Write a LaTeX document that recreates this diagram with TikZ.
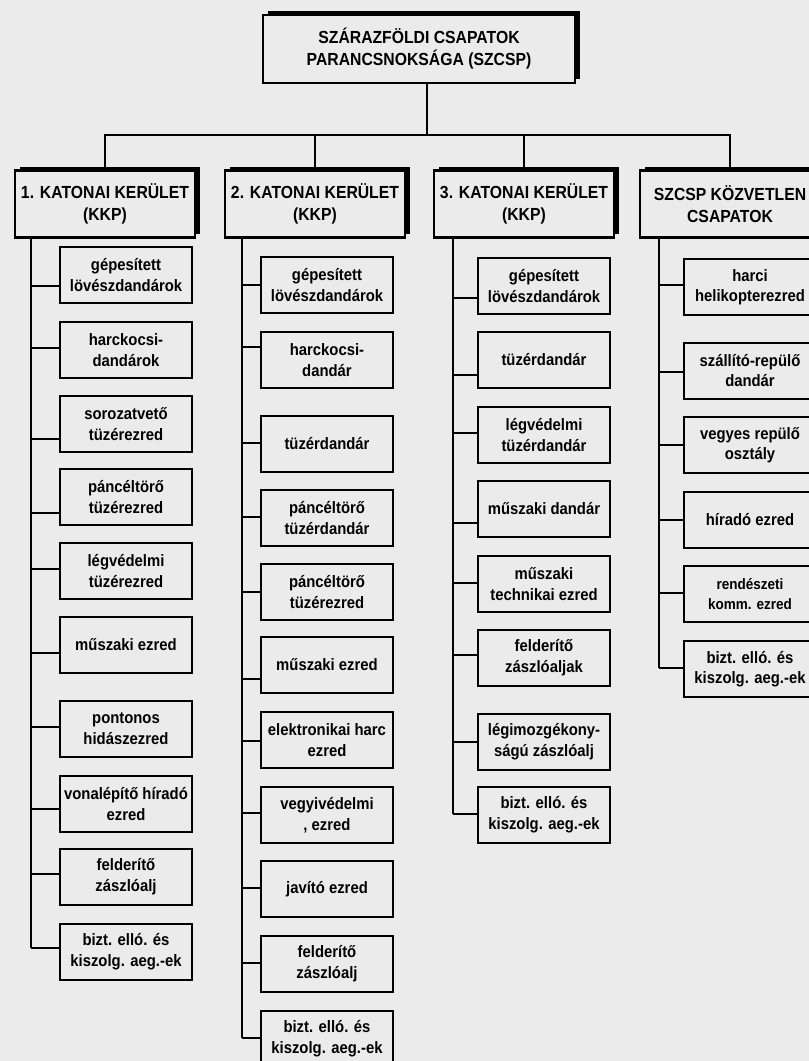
\documentclass[tikz,border=0pt]{standalone}
\usepackage{fontspec}
\setmainfont{Liberation Sans}[FakeStretch=0.9]
\usetikzlibrary{shadows}

\definecolor{paper}{gray}{0.92}

\tikzset{
    box/.style={draw, line width=2.4pt, fill=paper, align=center, inner sep=2pt,
        font=\bfseries\fontsize{16.5}{21}\selectfont},
    headbox/.style={box, general shadow={fill=black, shadow xshift=5pt, shadow yshift=4pt},
        font=\bfseries\fontsize{17.5}{22}\selectfont},
    unitbox/.style={box, minimum width=132pt, minimum height=56pt},
    link/.style={line width=2.2pt}
}

\begin{document}
\begin{tikzpicture}[x=1pt, y=-1pt]
    % the scanned page
    \fill[paper] (0,0) rectangle (809,1061);
    \useasboundingbox (0,0) rectangle (809,1061);
    \clip (0,0) rectangle (809,1061);

    % command on top
    \node[headbox, minimum width=312pt, minimum height=68pt] (szcsp) at (419,49)
        {SZÁRAZFÖLDI CSAPATOK\\PARANCSNOKSÁGA (SZCSP)};

    % the four districts under it
    \foreach \x/\name/\txt in {105/kk1/{1. KATONAI KERÜLET\\(KKP)},
                              315/kk2/{2. KATONAI KERÜLET\\(KKP)},
                              524/kk3/{3. KATONAI KERÜLET\\(KKP)},
                              730/kozv/{SZCSP KÖZVETLEN\\CSAPATOK}}
        \node[headbox, minimum width=180pt, minimum height=67pt] (\name) at (\x,204) {\txt};

    % bus between command and districts
    \coordinate (bus) at (427,135);
    \draw[link] (szcsp.south -| bus) -- (bus);
    \draw[link] (kk1.north) -- (kk1.north |- bus) -- (kozv.north |- bus) -- (kozv.north);
    \draw[link] (kk2.north) -- (kk2.north |- bus);
    \draw[link] (kk3.north) -- (kk3.north |- bus);

    % 1. district: box centre / branch height / text
    \foreach \yc/\by/\txt [count=\i] in {
            275/286/{gépesített\\lövészdandárok},
            350/348/{harckocsi-\\dandárok},
            424/439/{sorozatvető\\tüzérezred},
            497/513/{páncéltörő\\tüzérezred},
            571/569/{légvédelmi\\tüzérezred},
            645/653/{műszaki ezred},
            729/727/{pontonos\\hidászezred},
            804/809/{vonalépítő híradó\\ezred},
            877/874/{felderítő\\zászlóalj},
            952/948/{bizt. elló. és\\kiszolg. aeg.-ek}} {
        \node[unitbox] (a\i) at (126,\yc) {\txt};
        \coordinate (ja\i) at (31,\by);
        \draw[link] (ja\i) -- (ja\i -| a\i.west);
    }
    \draw[link] (kk1.south -| ja1) -- (ja10);

    % 2. district
    \foreach \yc/\by/\txt [count=\i] in {
            285/285/{gépesített\\lövészdandárok},
            360/347/{harckocsi-\\dandár},
            444/443/{tüzérdandár},
            518/517/{páncéltörő\\tüzérdandár},
            592/592/{páncéltörő\\tüzérezred},
            665/679/{műszaki ezred},
            740/741/{elektronikai harc\\ezred},
            815/813/{vegyivédelmi\\, ezred},
            889/888/{javító ezred},
            964/963/{felderítő\\zászlóalj},
            1039/1038/{bizt. elló. és\\kiszolg. aeg.-ek}} {
        \node[unitbox] (b\i) at (327,\yc) {\txt};
        \coordinate (jb\i) at (242,\by);
        \draw[link] (jb\i) -- (jb\i -| b\i.west);
    }
    \draw[link] (kk2.south -| jb1) -- (jb11);

    % 3. district
    \foreach \yc/\by/\txt [count=\i] in {
            286/298/{gépesített\\lövészdandárok},
            360/375/{tüzérdandár},
            435/433/{légvédelmi\\tüzérdandár},
            509/523/{műszaki dandár},
            584/583/{műszaki\\technikai ezred},
            658/655/{felderítő\\zászlóaljak},
            742/742/{légimozgékony-\\ságú zászlóalj},
            815/814/{bizt. elló. és\\kiszolg. aeg.-ek}} {
        \node[unitbox] (c\i) at (544,\yc) {\txt};
        \coordinate (jc\i) at (453,\by);
        \draw[link] (jc\i) -- (jc\i -| c\i.west);
    }
    \draw[link] (kk3.south -| jc1) -- (jc8);

    % troops directly under the command
    \foreach \yc/\by/\fs/\txt [count=\i] in {
            287/285/16.5/{harci\\helikopterezred},
            371/372/16.5/{szállító-repülő\\dandár},
            445/445/16.5/{vegyes repülő\\osztály},
            520/520/16.5/{híradó ezred},
            594/593/15/{rendészeti\\komm. ezred},
            669/668/16.5/{bizt. elló. és\\kiszolg. aeg.-ek}} {
        \node[unitbox, font=\bfseries\fontsize{\fs}{20}\selectfont] (d\i) at (750,\yc) {\txt};
        \coordinate (jd\i) at (659,\by);
        \draw[link] (jd\i) -- (jd\i -| d\i.west);
    }
    \draw[link] (kozv.south -| jd1) -- (jd6);
\end{tikzpicture}
\end{document}
